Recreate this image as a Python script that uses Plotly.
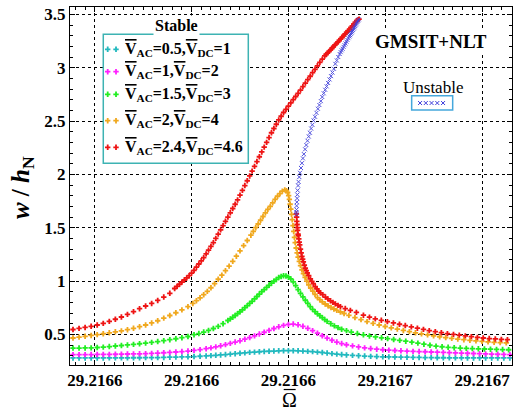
import plotly.graph_objects as go

# Frequency values are stored as offsets from OMEGA_BASE in units of 1e-7
OMEGA_BASE = 29.2165
OMEGA_UNIT = 1e-7

OMEGA_TICKS = [29.21656, 29.21660, 29.21664, 29.21668, 29.21672]
W_TICKS = [0.5, 1.0, 1.5, 2.0, 2.5, 3.0, 3.5]

X_RANGE = [OMEGA_BASE + 497.6 * OMEGA_UNIT, OMEGA_BASE + 2323.9 * OMEGA_UNIT]
Y_RANGE = [0.213, 3.569]

# shared frequency grid of the two weakest excitations
off_low = [510, 535, 560, 585, 610, 635, 660, 685, 710, 735, 760, 785, 810, 835, 860, 885, 910, 935, 960,
           985, 1010, 1035, 1060,
           1080, 1100, 1120, 1140, 1160, 1180, 1200, 1220, 1240, 1260, 1280, 1300, 1320, 1340, 1360, 1380,
           1400, 1420, 1440, 1460, 1480, 1500, 1520, 1540, 1560, 1580, 1600, 1620, 1640,
           1665, 1690, 1715, 1740, 1765, 1790, 1815, 1840, 1865, 1890, 1915, 1940, 1965, 1990, 2015, 2040,
           2065, 2090, 2115, 2140, 2165, 2190, 2215, 2240, 2265, 2290, 2315]

# V_AC = 0.5, V_DC = 1
w_ac05 = [0.279, 0.279, 0.279, 0.279, 0.279, 0.279, 0.28, 0.28, 0.28, 0.28, 0.281, 0.281, 0.282, 0.282,
          0.283, 0.284, 0.286, 0.287, 0.289, 0.29, 0.292, 0.295, 0.298,
          0.301, 0.304, 0.307, 0.311, 0.315, 0.319, 0.323, 0.327, 0.331, 0.334, 0.337, 0.34, 0.342, 0.344,
          0.346, 0.347, 0.347, 0.347, 0.346, 0.344, 0.341, 0.338, 0.334, 0.33, 0.325, 0.32, 0.315, 0.311,
          0.307,
          0.303, 0.3, 0.297, 0.294, 0.292, 0.29, 0.289, 0.288, 0.287, 0.286, 0.285, 0.284, 0.283, 0.282,
          0.281, 0.281, 0.28, 0.28, 0.28, 0.279, 0.279, 0.279, 0.279, 0.279, 0.279, 0.279, 0.279]

# V_AC = 1, V_DC = 2
w_ac1 = [0.31, 0.31, 0.31, 0.311, 0.312, 0.312, 0.313, 0.314, 0.315, 0.316, 0.317, 0.318, 0.32, 0.322,
         0.325, 0.328, 0.331, 0.335, 0.339, 0.344, 0.35, 0.357, 0.366,
         0.374, 0.383, 0.393, 0.404, 0.416, 0.428, 0.44, 0.455, 0.47, 0.486, 0.503, 0.52, 0.538, 0.555,
         0.571, 0.584, 0.594, 0.597, 0.59, 0.576, 0.557, 0.535, 0.511, 0.487, 0.465, 0.445, 0.428, 0.414,
         0.403,
         0.392, 0.382, 0.374, 0.367, 0.361, 0.356, 0.352, 0.349, 0.346, 0.343, 0.341, 0.339, 0.337, 0.335,
         0.333, 0.331, 0.329, 0.327, 0.325, 0.323, 0.321, 0.319, 0.317, 0.315, 0.314, 0.312, 0.311]

# V_AC = 1.5, V_DC = 3
off_ac15 = [510, 535, 560, 585, 610, 635, 660, 685, 710, 735, 760, 785, 810, 835, 860, 885, 910, 935, 960, 985,
            1010, 1030, 1050, 1070, 1090, 1110, 1130, 1150,
            1160, 1170, 1180, 1190, 1200, 1210, 1220, 1230, 1240, 1250, 1260, 1270, 1280, 1290, 1300, 1310,
            1320, 1330, 1340, 1350,
            1360, 1370, 1380, 1390, 1400, 1410, 1420, 1430, 1440, 1450, 1460, 1470, 1480, 1490, 1500, 1510,
            1520, 1530, 1540, 1550, 1560, 1575, 1590, 1605, 1620,
            1640, 1660, 1685, 1710, 1735, 1760, 1785, 1810, 1835, 1860, 1885, 1910, 1935, 1960, 1985, 2010,
            2035, 2060, 2085, 2110, 2135, 2160, 2185, 2210, 2235, 2260, 2285, 2310]
w_ac15 = [0.372, 0.372, 0.373, 0.374, 0.377, 0.381, 0.386, 0.391, 0.396, 0.401, 0.406, 0.412, 0.418, 0.425,
          0.433, 0.441, 0.45, 0.459, 0.469, 0.48,
          0.497, 0.508, 0.522, 0.537, 0.555, 0.575, 0.6, 0.63,
          0.645, 0.66, 0.677, 0.695, 0.712, 0.73, 0.75, 0.77, 0.79, 0.81, 0.832, 0.855, 0.878, 0.9, 0.92,
          0.94, 0.96, 0.98, 0.998, 1.015,
          1.033, 1.043, 1.05, 1.048, 1.038, 1.02, 0.993, 0.958, 0.92, 0.885, 0.852, 0.82, 0.79, 0.76, 0.735,
          0.713, 0.693, 0.675, 0.657, 0.639, 0.622, 0.6, 0.58, 0.563, 0.548,
          0.535, 0.522, 0.508, 0.496, 0.485, 0.476, 0.468, 0.46, 0.452, 0.444, 0.436, 0.427, 0.418, 0.408,
          0.398, 0.39, 0.384, 0.379, 0.375, 0.372, 0.369, 0.367, 0.365, 0.363, 0.361, 0.359, 0.358, 0.356]

# V_AC = 2, V_DC = 4
off_ac2 = [510, 535, 560, 585, 610, 635, 660, 685, 710, 735, 760, 785, 810, 835, 860, 885, 910, 935, 960, 985,
           1005, 1020, 1035, 1050, 1065, 1080, 1095, 1110, 1125, 1140, 1155, 1170, 1185, 1200, 1215, 1230,
           1245,
           1255, 1265, 1275, 1285, 1295, 1305, 1315, 1325, 1335, 1345, 1355, 1365, 1375, 1385,
           1392, 1397, 1401, 1404, 1407, 1410, 1413, 1416, 1419, 1422, 1425, 1428, 1432, 1436, 1440, 1445,
           1450, 1456, 1462, 1469, 1476, 1484, 1492, 1501, 1510, 1520, 1530, 1540, 1552, 1564, 1576, 1588,
           1600, 1615, 1630, 1650, 1675, 1700, 1725, 1750, 1775, 1800, 1825, 1850, 1875, 1900, 1925, 1950,
           1975, 2000, 2025, 2050, 2075, 2100, 2125, 2150, 2175, 2200, 2225, 2250, 2275, 2300]
w_ac2 = [0.466, 0.474, 0.482, 0.49, 0.498, 0.506, 0.515, 0.524, 0.533, 0.544, 0.557, 0.572, 0.588, 0.607,
         0.628, 0.652, 0.677, 0.703, 0.73, 0.76,
         0.79, 0.816, 0.843, 0.872, 0.903, 0.937, 0.975, 1.017, 1.055, 1.097, 1.14, 1.185, 1.233, 1.283,
         1.332, 1.38, 1.43,
         1.465, 1.5, 1.535, 1.57, 1.605, 1.64, 1.672, 1.7, 1.733, 1.765, 1.795, 1.82, 1.843, 1.855,
         1.848, 1.83, 1.8, 1.765, 1.72, 1.675, 1.625, 1.575, 1.52, 1.465, 1.41, 1.36, 1.31, 1.265, 1.225,
         1.185, 1.145, 1.105, 1.07, 1.035, 1.0, 0.965, 0.935, 0.905, 0.875, 0.845, 0.825, 0.805, 0.785,
         0.767, 0.752, 0.738, 0.725, 0.71, 0.696, 0.678, 0.658, 0.638, 0.62, 0.603, 0.588, 0.574, 0.561,
         0.549, 0.537, 0.526, 0.515, 0.505, 0.495, 0.486, 0.478, 0.47, 0.463, 0.456, 0.45, 0.444, 0.439,
         0.434, 0.43, 0.426, 0.423, 0.42]

# V_AC = 2.4, V_DC = 4.6 : upper stable branch (up to the turning point)
off_ac24_up = [510, 535, 560, 585, 610, 635, 660, 685, 710, 735, 760, 785, 810, 835, 860, 885, 910,
               930, 940, 950, 960, 970, 980, 990, 1000, 1010, 1020, 1030, 1040, 1050, 1060, 1070, 1080,
               1090, 1100, 1110, 1120, 1130, 1140, 1150, 1160, 1170, 1180, 1190, 1200, 1210, 1220, 1230,
               1240, 1250, 1260, 1270, 1280, 1290, 1300, 1310, 1320, 1330, 1340, 1350, 1360, 1370, 1380,
               1390, 1400, 1410, 1420, 1430, 1440, 1450, 1460, 1470, 1480, 1490, 1500, 1510, 1520, 1530,
               1540, 1550,
               1556, 1562, 1568, 1574, 1580, 1586, 1592, 1598, 1604, 1610, 1616, 1622, 1628, 1634, 1640,
               1646, 1652, 1658, 1664, 1670, 1676, 1682, 1688, 1692]
w_ac24_up = [0.546, 0.556, 0.565, 0.576, 0.588, 0.603, 0.622, 0.642, 0.663, 0.688, 0.713, 0.741, 0.766,
             0.79, 0.818, 0.85, 0.885,
             0.93, 0.95, 0.97, 0.99, 1.01, 1.03, 1.05, 1.075, 1.1, 1.13, 1.16, 1.19, 1.22, 1.255, 1.29,
             1.325, 1.36, 1.4, 1.44, 1.48, 1.52, 1.56, 1.6, 1.64, 1.68, 1.72, 1.76, 1.805, 1.85, 1.895,
             1.94, 1.985, 2.03, 2.075, 2.12, 2.165, 2.21, 2.255, 2.3, 2.345, 2.39, 2.43, 2.47, 2.51, 2.545,
             2.58, 2.61, 2.64, 2.67, 2.7, 2.73, 2.76, 2.79, 2.823, 2.855, 2.888, 2.92, 2.953, 2.985, 3.018,
             3.05, 3.08, 3.11,
             3.124, 3.139, 3.153, 3.168, 3.182, 3.197, 3.211, 3.226, 3.24, 3.255, 3.27, 3.285, 3.3, 3.315,
             3.33, 3.345, 3.36, 3.376, 3.392, 3.408, 3.424, 3.44, 3.45, 3.455]

# V_AC = 2.4, V_DC = 4.6 : lower stable branch (after the jump)
off_ac24_low = [1433, 1434, 1435, 1436, 1437, 1438, 1440, 1441, 1443, 1445, 1447, 1450, 1453, 1456, 1459,
                1462, 1466, 1470, 1474, 1478, 1484, 1491, 1497, 1503, 1511, 1518, 1525, 1532, 1542, 1553,
                1563, 1574, 1584, 1594, 1605, 1615, 1635, 1656, 1681, 1710, 1735, 1759, 1784, 1809, 1834,
                1859, 1883, 1908, 1933, 1958, 1982, 2007, 2032, 2057, 2082, 2106, 2131, 2156, 2181, 2205,
                2230, 2255, 2280, 2305]
w_ac24_low = [1.63, 1.6, 1.56, 1.53, 1.5, 1.475, 1.44, 1.425, 1.395, 1.365, 1.34, 1.3, 1.265, 1.232, 1.205,
              1.18, 1.15, 1.12, 1.098, 1.077, 1.05, 1.02, 0.997, 0.975, 0.948, 0.926, 0.905, 0.89, 0.872,
              0.85, 0.833, 0.815, 0.8, 0.786, 0.772, 0.76, 0.742, 0.725, 0.706, 0.68, 0.662, 0.645, 0.632,
              0.62, 0.607, 0.595, 0.583, 0.57, 0.558, 0.547, 0.535, 0.525, 0.516, 0.507, 0.5, 0.493, 0.486,
              0.479, 0.472, 0.466, 0.461, 0.457, 0.453, 0.45]

# V_AC = 2.4, V_DC = 4.6 : unstable branch
off_unstable = [1691, 1688, 1685, 1682, 1679, 1676, 1673, 1670, 1667, 1664, 1661, 1658, 1655, 1652, 1648,
                1644, 1640, 1636, 1632, 1628, 1624, 1620, 1616, 1612, 1606, 1600, 1594, 1588, 1582, 1576,
                1570, 1564, 1558, 1552, 1546, 1540, 1534, 1528, 1522, 1516, 1510, 1504, 1499, 1494, 1489,
                1484, 1479, 1474, 1469, 1464, 1460, 1456, 1452, 1448, 1445, 1442, 1440, 1438, 1437, 1436,
                1435, 1434, 1433.5, 1433, 1433]
w_unstable = [3.453, 3.44, 3.428, 3.416, 3.404, 3.391, 3.379, 3.367, 3.354, 3.342, 3.33, 3.318, 3.305,
              3.293, 3.277, 3.26, 3.244, 3.227, 3.211, 3.195, 3.178, 3.163, 3.146, 3.128, 3.1, 3.068, 3.036,
              2.99, 2.955, 2.921, 2.89, 2.857, 2.825, 2.793, 2.76, 2.725, 2.687, 2.65, 2.615, 2.577, 2.54,
              2.505, 2.465, 2.43, 2.39, 2.355, 2.315, 2.275, 2.235, 2.19, 2.15, 2.105, 2.06, 2.015, 1.975,
              1.93, 1.895, 1.85, 1.81, 1.775, 1.74, 1.705, 1.67, 1.645, 1.625]

VBAR = '<span style="text-decoration:overline">V</span>'
LABELS = [VBAR + "<sub>AC</sub>=0.5," + VBAR + "<sub>DC</sub>=1",
          VBAR + "<sub>AC</sub>=1," + VBAR + "<sub>DC</sub>=2",
          VBAR + "<sub>AC</sub>=1.5," + VBAR + "<sub>DC</sub>=3",
          VBAR + "<sub>AC</sub>=2," + VBAR + "<sub>DC</sub>=4",
          VBAR + "<sub>AC</sub>=2.4," + VBAR + "<sub>DC</sub>=4.6"]
COLORS = ["#22b9bf", "#ff20ff", "#22ee22", "#f0a81e", "#ee1414"]
UNSTABLE_COLOR = "#4040dc"

for xs, ys in [(off_low, w_ac05), (off_low, w_ac1), (off_ac15, w_ac15), (off_ac2, w_ac2),
               (off_ac24_up, w_ac24_up), (off_ac24_low, w_ac24_low), (off_unstable, w_unstable)]:
    assert len(xs) == len(ys), (len(xs), len(ys))

SERIF = "Liberation Serif"
MARKER_SIZE = 4.5


def omega(offsets):
    return [OMEGA_BASE + o * OMEGA_UNIT for o in offsets]


def fx(f):
    """Fraction of the plot width -> frequency coordinate."""
    return X_RANGE[0] + f * (X_RANGE[1] - X_RANGE[0])


def fy(f):
    """Fraction of the plot height -> amplitude coordinate."""
    return Y_RANGE[0] + f * (Y_RANGE[1] - Y_RANGE[0])


fig = go.Figure()

stable = [(off_low, w_ac05, 0), (off_low, w_ac1, 1), (off_ac15, w_ac15, 2), (off_ac2, w_ac2, 3),
          (off_ac24_up, w_ac24_up, 4), (off_ac24_low, w_ac24_low, 4)]
for xs, ys, k in stable:
    fig.add_trace(go.Scatter(x=omega(xs), y=ys, mode="markers", showlegend=False,
                             marker=dict(symbol="cross", size=MARKER_SIZE, color=COLORS[k],
                                         line=dict(width=0))))

fig.add_trace(go.Scatter(x=omega(off_unstable), y=w_unstable, mode="markers", showlegend=False,
                         marker=dict(symbol="x-thin", size=4, color=UNSTABLE_COLOR, opacity=0.9,
                                     line=dict(width=1, color=UNSTABLE_COLOR))))

# ---- legend of the stable branches (drawn by hand) ----
shapes = []
annotations = []
shapes.append(dict(type="rect", xref="x", yref="y", layer="between",
                   x0=fx(0.0753), x1=fx(0.4034), y0=fy(0.5634), y1=fy(0.9237),
                   line=dict(color="#3db3b3", width=1.5), fillcolor="white"))
annotations.append(dict(text="<b>Stable</b>", xref="paper", yref="paper", x=0.2414, y=0.947,
                        xanchor="center", yanchor="middle", showarrow=False, bgcolor="white",
                        font=dict(family=SERIF, size=16, color="black")))
entry_y = [0.8818, 0.8193, 0.7561, 0.6824, 0.6081]
for k, (lab, ey) in enumerate(zip(LABELS, entry_y)):
    fig.add_trace(go.Scatter(x=[fx(0.0853), fx(0.1041)], y=[fy(ey), fy(ey)], mode="markers",
                             showlegend=False, hoverinfo="skip",
                             marker=dict(symbol="cross", size=MARKER_SIZE, color=COLORS[k],
                                         line=dict(width=0))))
    annotations.append(dict(text="<b>" + lab + "</b>", xref="paper", yref="paper", x=0.1199, y=ey,
                            xanchor="left", yanchor="middle", showarrow=False,
                            font=dict(family=SERIF, size=16, color="black")))

# ---- legend of the unstable branch ----
shapes.append(dict(type="rect", xref="x", yref="y", layer="between",
                   x0=fx(0.773), x1=fx(0.8658), y0=fy(0.7123), y1=fy(0.7522),
                   line=dict(color="#45a8dc", width=1.5), fillcolor="white"))
fig.add_trace(go.Scatter(x=[fx(v) for v in [0.792, 0.805, 0.818, 0.831, 0.844]], y=[fy(0.7318)] * 5,
                         mode="markers", showlegend=False, hoverinfo="skip",
                         marker=dict(symbol="x-thin", size=4, color=UNSTABLE_COLOR,
                                     line=dict(width=1, color=UNSTABLE_COLOR))))
annotations.append(dict(text="Unstable", xref="paper", yref="paper", x=0.8213, y=0.7757,
                        xanchor="center", yanchor="middle", showarrow=False,
                        font=dict(family=SERIF, size=17, color="black")))
annotations.append(dict(text="<b>GMSIT+NLT</b>", xref="paper", yref="paper", x=0.8175, y=0.9031,
                        xanchor="center", yanchor="middle", showarrow=False, bgcolor="white",
                        font=dict(family=SERIF, size=19, color="black")))

# axis titles
annotations.append(dict(text="<b><i>w</i> / <i>h</i><sub>N</sub></b>", xref="paper", yref="paper",
                        x=-0.1086, y=0.497, textangle=-90, xanchor="center", yanchor="middle",
                        showarrow=False, font=dict(family=SERIF, size=25, color="black")))
annotations.append(dict(text="\u03a9", xref="paper", yref="paper", x=0.497, y=-0.098,
                        xanchor="center", yanchor="middle", showarrow=False,
                        font=dict(family=SERIF, size=20, color="black")))
# bar over the frequency symbol
shapes.append(dict(type="line", xref="paper", yref="paper", layer="above",
                   x0=0.4835, x1=0.5105, y0=-0.0685, y1=-0.0685,
                   line=dict(color="black", width=1.2)))

axis_common = dict(showline=True, linecolor="black", linewidth=1, mirror="allticks",
                   ticks="inside", ticklen=5, tickwidth=1, tickcolor="black",
                   showgrid=True, gridcolor="black", gridwidth=1, griddash="3px,3px",
                   zeroline=False,
                   tickfont=dict(family=SERIF, size=17, color="black", weight="bold"))

fig.update_layout(
    width=516, height=410,
    margin=dict(l=70, r=4, t=7, b=45),
    paper_bgcolor="white", plot_bgcolor="white",
    showlegend=False,
    shapes=shapes, annotations=annotations,
    xaxis=dict(range=X_RANGE, tickmode="array", tickvals=OMEGA_TICKS, tickformat=".4f",
               minor=dict(ticks="inside", ticklen=3, tickcolor="black", tick0=OMEGA_TICKS[0],
                          dtick=4e-6, showgrid=False),
               **axis_common),
    yaxis=dict(range=Y_RANGE, tickmode="array", tickvals=W_TICKS,
               minor=dict(ticks="inside", ticklen=3, tickcolor="black", tick0=0, dtick=0.1,
                          showgrid=False),
               **axis_common),
)

fig.write_html("out.html")
